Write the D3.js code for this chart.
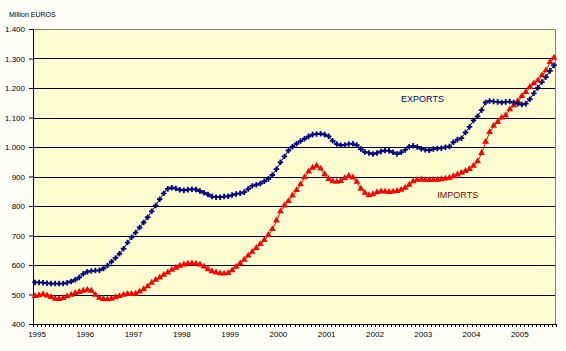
<!DOCTYPE html>
<html>
<head>
<meta charset="utf-8">
<title>Exports / Imports</title>
<style>
  html, body { margin: 0; padding: 0; background: #fffff8; }
  svg { display: block; font-family: "Liberation Sans", Arial, sans-serif; }
</style>
<script src="https://d3js.org/d3.v7.min.js"></script>
</head>
<body>
<svg id="chart"></svg>
<script>
// monthly values, Million EUROS, Jan 1995 .. Oct 2005
const years = ["1995","1996","1997","1998","1999","2000","2001","2002","2003","2004","2005"];
const exportsData = [
  541, 541, 540, 538, 537, 537, 537, 537, 540, 544, 550, 558,
  570, 577, 580, 581, 582, 588, 598, 611, 624, 638, 655, 676,
  694, 710, 727, 744, 762, 782, 802, 823, 843, 858, 862, 859,
  855, 853, 855, 857, 856, 851, 845, 839, 832, 830, 830, 832,
  833, 837, 841, 843, 847, 858, 868, 872, 876, 884, 892, 905,
  925, 948, 968, 988, 1001, 1011, 1020, 1028, 1036, 1042, 1044, 1045,
  1042, 1036, 1021, 1010, 1006, 1007, 1010, 1011, 1006, 993, 983, 980,
  976, 980, 985, 988, 987, 982, 976, 982, 990, 1001, 1004, 1000,
  994, 991, 989, 993, 995, 996, 999, 1002, 1016, 1025, 1030, 1049,
  1068, 1090, 1104, 1125, 1151, 1156, 1154, 1153, 1151, 1153, 1154, 1151,
  1147, 1144, 1147, 1162, 1182, 1201, 1220, 1237, 1258, 1277
];
const importsData = [
  493, 496, 499, 495, 490, 484, 483, 486, 492, 497, 503, 507,
  511, 514, 511, 497, 487, 483, 482, 484, 489, 493, 497, 500,
  500, 501, 508, 516, 526, 538, 548, 556, 565, 573, 582, 589,
  596, 600, 603, 604, 603, 600, 593, 584, 577, 573, 570, 569,
  571, 580, 592, 604, 616, 630, 643, 656, 669, 683, 700, 720,
  749, 780, 800, 815, 834, 852, 872, 896, 915, 928, 935, 925,
  906, 890, 882, 880, 883, 893, 900, 895, 880, 857, 843, 835,
  838, 845, 848, 847, 846, 847, 849, 853, 860, 870, 882, 887,
  888, 887, 886, 887, 887, 889, 891, 894, 899, 905, 911, 917,
  924, 935, 950, 978, 1016, 1049, 1070, 1083, 1098, 1106, 1126, 1140,
  1154, 1171, 1185, 1202, 1214, 1224, 1241, 1258, 1286, 1301
];
const yTicks = [400, 500, 600, 700, 800, 900, 1000, 1100, 1200, 1300, 1400];

const months = [];
years.forEach(y => { for (let m = 1; m <= 12; m++) months.push(y + "-" + m); });
const categories = months.slice(0, exportsData.length);

const width = 566, height = 351;
const margin = { top: 29, right: 10, bottom: 27, left: 33 };
const innerW = width - margin.left - margin.right;
const innerH = height - margin.top - margin.bottom;

const svg = d3.select("#chart").attr("width", width).attr("height", height);

const x = d3.scaleBand().domain(categories).range([0, innerW]).padding(0);
const y = d3.scaleLinear().domain([400, 1400]).range([innerH, 0]);
const cx = d => x(d) + x.bandwidth() / 2;

const euro = d3.formatLocale({ decimal: ",", thousands: ".", grouping: [3], currency: ["", ""] }).format(",");

svg.append("text")
  .attr("x", 9).attr("y", 17)
  .attr("font-size", "7px")
  .attr("fill", "#000")
  .text("Million EUROS");

const g = svg.append("g").attr("transform", "translate(" + margin.left + "," + margin.top + ")");

g.append("rect")
  .attr("width", innerW).attr("height", innerH)
  .attr("fill", "#ffffd2");

// gridlines
g.selectAll(".grid")
  .data(yTicks.slice(1, -1))
  .enter().append("line")
  .attr("x1", 0).attr("x2", innerW)
  .attr("y1", d => Math.round(y(d)) + 0.5).attr("y2", d => Math.round(y(d)) + 0.5)
  .attr("stroke", "#000").attr("stroke-width", 1);

// plot frame top / right
g.append("path")
  .attr("d", "M0,0.5H" + (innerW - 0.5) + "V" + innerH)
  .attr("fill", "none").attr("stroke", "#808080");

// y axis
const yAxis = g.append("g")
  .call(d3.axisLeft(y).tickValues(yTicks).tickSize(4).tickSizeOuter(0).tickFormat(euro));
yAxis.select(".domain").attr("stroke", "#000");
yAxis.selectAll("text").attr("font-size", "8px").attr("fill", "#000").attr("dx", "-1");

// x axis: a tick at every month, label at each January
const xAxis = g.append("g")
  .attr("transform", "translate(0," + innerH + ")")
  .call(d3.axisBottom(x).tickSize(0).tickFormat(""));
xAxis.select(".domain").attr("stroke", "#000");
xAxis.selectAll(".tick").remove();
xAxis.selectAll(".mtick")
  .data(categories.concat(["end"]))
  .enter().append("line")
  .attr("x1", (d, i) => Math.round(i < categories.length ? x(d) : innerW) + 0.5)
  .attr("x2", (d, i) => Math.round(i < categories.length ? x(d) : innerW) + 0.5)
  .attr("y1", 0).attr("y2", 3)
  .attr("stroke", "#000");
xAxis.selectAll(".ylabel")
  .data(years)
  .enter().append("text")
  .attr("x", d => cx(d + "-1") + 2)
  .attr("y", 13)
  .attr("text-anchor", "middle")
  .attr("font-size", "8px")
  .attr("fill", "#000")
  .text(d => d);

// series
const line = d3.line().x((d, i) => cx(categories[i])).y(d => y(d));

g.append("path").datum(importsData)
  .attr("d", line).attr("fill", "none").attr("stroke", "#ff0000").attr("stroke-width", 1);
g.selectAll(".imp")
  .data(importsData)
  .enter().append("path")
  .attr("transform", (d, i) => "translate(" + cx(categories[i]) + "," + (y(d) - 0.5) + ")")
  .attr("d", d3.symbol().type(d3.symbolTriangle).size(20))
  .attr("fill", "#ff0000");

g.append("path").datum(exportsData)
  .attr("d", line).attr("fill", "none").attr("stroke", "#000080").attr("stroke-width", 1);
g.selectAll(".exp")
  .data(exportsData)
  .enter().append("path")
  .attr("transform", (d, i) => "translate(" + cx(categories[i]) + "," + y(d) + ")")
  .attr("d", d3.symbol().type(d3.symbolCross).size(17))
  .attr("fill", "#000080");

// series labels
g.append("text")
  .attr("x", cx("2002-8")).attr("y", y(1154))
  .attr("font-size", "9px").attr("fill", "#000080")
  .text("EXPORTS");
g.append("text")
  .attr("x", cx("2003-5")).attr("y", y(828))
  .attr("font-size", "9px").attr("fill", "#800000")
  .text("IMPORTS");
</script>
</body>
</html>
